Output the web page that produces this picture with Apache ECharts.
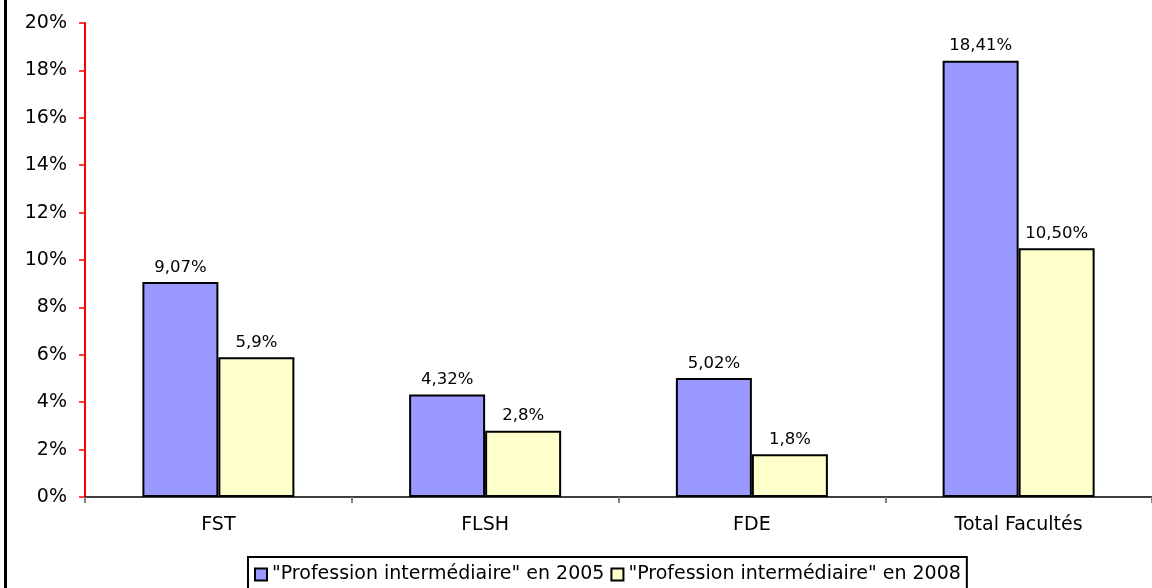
<!DOCTYPE html>
<html><head><meta charset="utf-8">
<script src="https://cdn.jsdelivr.net/npm/echarts@6/dist/echarts.min.js"></script>
<style>html,body{margin:0;padding:0;background:#fff}#c{width:1152px;height:588px}</style>
</head><body><div id="c"></div>
<script>
const categories = ['FST', 'FLSH', 'FDE', 'Total Facultés'];
const seriesNames = ['"Profession intermédiaire" en 2005', '"Profession intermédiaire" en 2008'];
const values2005 = [9.07, 4.32, 5.02, 18.41];
const values2008 = [5.9, 2.8, 1.8, 10.50];
const labels2005 = ['9,07%', '4,32%', '5,02%', '18,41%'];
const labels2008 = ['5,9%', '2,8%', '1,8%', '10,50%'];
const yTicks = [0, 2, 4, 6, 8, 10, 12, 14, 16, 18, 20];

const font = 'DejaVu Sans';
const chart = echarts.init(document.getElementById('c'));
function mkSeries(name, vals, labs, color) {
  return {
    name: name, type: 'bar', data: vals, barWidth: 76, barGap: '0%',
    itemStyle: { color: color, borderColor: '#000', borderWidth: 2 },
    label: { show: true, position: 'top', distance: 6, color: '#000', fontFamily: font, fontSize: 16.5,
      formatter: p => labs[p.dataIndex] },
    emphasis: { disabled: true }
  };
}
chart.setOption({
  animation: false,
  textStyle: { fontFamily: font },
  grid: { left: 85, right: 0, top: 23, bottom: 91, containLabel: false },
  xAxis: {
    type: 'category', data: categories,
    axisLine: { lineStyle: { color: '#000', width: 1.5 } },
    axisTick: { show: true, alignWithLabel: false, length: 6, lineStyle: { color: '#808080', width: 2 } },
    axisLabel: { color: '#000', fontSize: 19, fontFamily: font, margin: 19 }
  },
  yAxis: {
    type: 'value', min: yTicks[0], max: yTicks[yTicks.length - 1], interval: 2,
    axisLine: { show: true, lineStyle: { color: '#ff0000', width: 2 } },
    axisTick: { show: true, length: 6, lineStyle: { color: '#ff0000', width: 1.5 } },
    splitLine: { show: false },
    axisLabel: { color: '#000', fontSize: 19, fontFamily: font, margin: 18, formatter: v => v + '%' }
  },
  legend: {
    left: 248, top: 557, orient: 'horizontal',
    borderColor: '#000', borderWidth: 2, padding: [8, 6, 20, 6],
    itemWidth: 12, itemHeight: 12, itemGap: 6,
    icon: 'rect',
    itemStyle: { borderColor: '#000', borderWidth: 2 },
    textStyle: { color: '#000', fontSize: 19, fontFamily: font },
    data: seriesNames
  },
  graphic: [{ type: 'rect', shape: { x: 4, y: 0, width: 3, height: 588 }, style: { fill: '#000' } }],
  series: [
    mkSeries(seriesNames[0], values2005, labels2005, '#9999ff'),
    mkSeries(seriesNames[1], values2008, labels2008, '#ffffcc')
  ]
});
</script></body></html>
